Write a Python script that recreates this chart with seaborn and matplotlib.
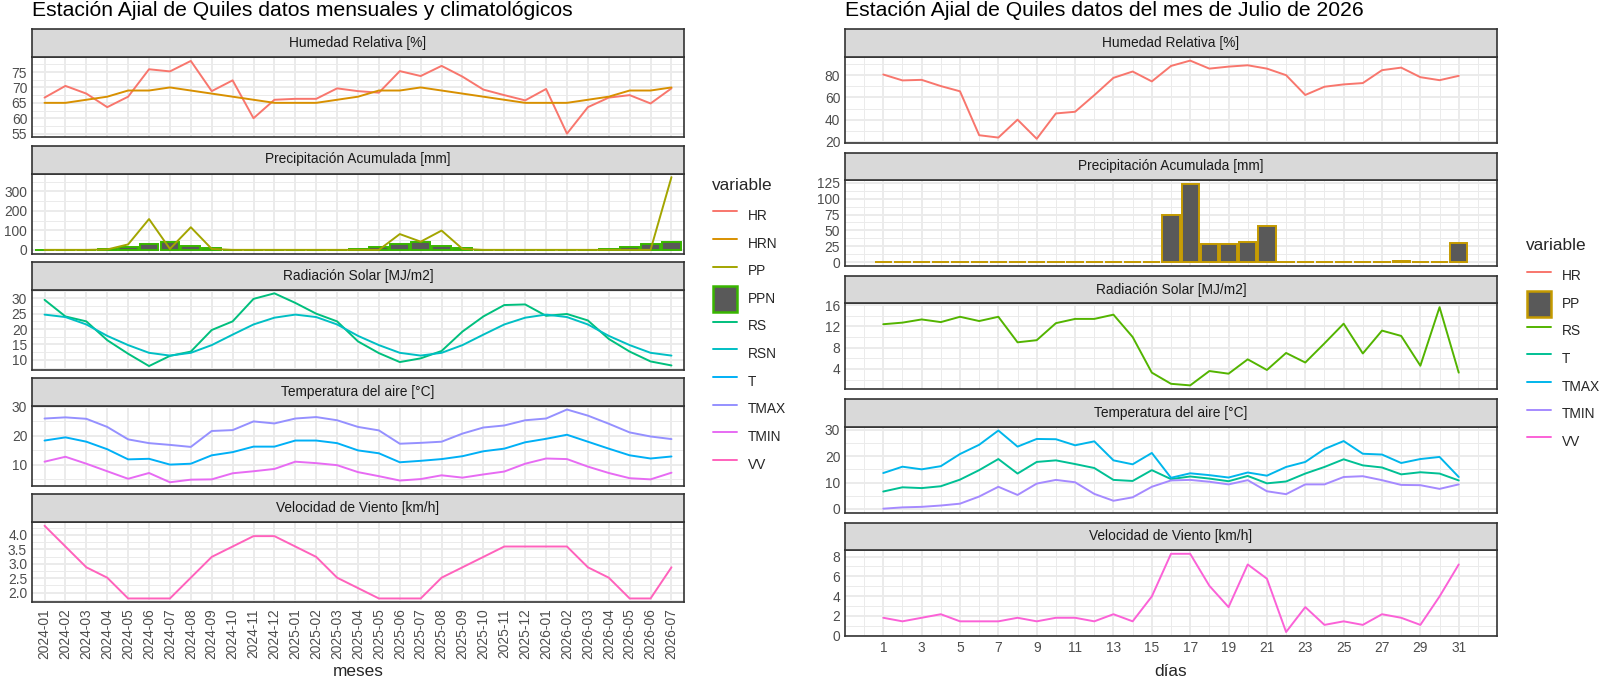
import numpy as np
import pandas as pd
import matplotlib
matplotlib.use('Agg')
import matplotlib.pyplot as plt
import seaborn as sns
from matplotlib.lines import Line2D
from matplotlib.patches import Patch

sns.set_style('white')
plt.rcParams['font.family'] = ['Liberation Sans', 'DejaVu Sans']

# ---- datos mensuales y climatologicos (izquierda) ----
meses = ['2024-01', '2024-02', '2024-03', '2024-04', '2024-05', '2024-06', '2024-07', '2024-08',
         '2024-09', '2024-10', '2024-11', '2024-12', '2025-01', '2025-02', '2025-03', '2025-04',
         '2025-05', '2025-06', '2025-07', '2025-08', '2025-09', '2025-10', '2025-11', '2025-12',
         '2026-01', '2026-02', '2026-03', '2026-04', '2026-05', '2026-06', '2026-07']
hr_mes = [66.7, 70.5, 68.0, 63.6, 67.0, 75.9, 75.2, 78.6, 68.8, 72.3, 60.0, 66.0, 66.3, 66.3, 69.7, 68.8,
          68.3, 75.3, 73.7, 77.0, 73.5, 69.3, 67.5, 65.8, 69.5, 55.0, 63.6, 66.7, 67.5, 64.8, 69.7]
hrn_mes = [65, 65, 66, 67, 69, 69, 70, 69, 68, 67, 66, 65, 65, 65, 66, 67,
           69, 69, 70, 69, 68, 67, 66, 65, 65, 65, 66, 67, 69, 69, 70]
pp_mes = [0, 0, 0, 2, 28, 158, 5, 116, 5, 0, 0, 0, 0, 0, 0, 0,
          0, 81, 42, 99, 5, 0, 0, 0, 0, 0, 0, 0, 0, 0, 373]
ppn_mes = [0, 0, 1, 3, 16, 31, 42, 21, 8, 1, 0, 0, 0, 0, 1, 3,
           16, 31, 42, 21, 8, 1, 0, 0, 0, 0, 1, 3, 16, 31, 42]
rs_mes = [29.5, 24.1, 22.5, 16.4, 12.0, 8.0, 11.3, 12.7, 19.7, 22.5, 29.8, 31.6, 28.5, 25.0, 22.5, 16.0,
          12.2, 9.3, 10.5, 12.9, 19.2, 24.1, 27.8, 28.0, 24.3, 24.9, 22.8, 16.8, 12.7, 9.5, 8.2]
rsn_mes = [24.7, 23.9, 21.5, 17.8, 14.8, 12.3, 11.4, 12.3, 14.8, 18.2, 21.5, 23.7, 24.7, 23.9, 21.5, 17.8,
           14.8, 12.3, 11.4, 12.3, 14.8, 18.2, 21.5, 23.7, 24.7, 23.9, 21.5, 17.8, 14.8, 12.3, 11.4]
tmax_mes = [26.0, 26.4, 25.9, 23.1, 18.8, 17.5, 16.9, 16.2, 21.7, 22.0, 25.0, 24.3, 26.0, 26.5, 25.4, 23.1,
            21.9, 17.3, 17.6, 18.0, 20.8, 22.9, 23.6, 25.4, 26.0, 29.1, 27.0, 24.2, 21.2, 19.8, 18.9]
t_mes = [18.4, 19.5, 18.0, 15.4, 11.9, 12.1, 10.1, 10.4, 13.3, 14.4, 16.3, 16.3, 18.4, 18.4, 17.5, 15.0,
         14.0, 10.9, 11.4, 12.0, 13.0, 14.7, 15.6, 17.8, 19.0, 20.4, 18.0, 15.6, 13.3, 12.2, 12.9]
tmin_mes = [11.1, 12.8, 10.4, 7.8, 5.2, 7.2, 4.0, 4.9, 5.0, 7.1, 7.8, 8.6, 11.1, 10.6, 9.9, 7.5,
            6.1, 4.6, 5.1, 6.4, 5.6, 6.7, 7.7, 10.4, 12.2, 12.0, 9.4, 7.2, 5.4, 5.0, 7.3]
vv_mes = [4.32, 3.6, 2.88, 2.52, 1.8, 1.8, 1.8, 2.52, 3.24, 3.6, 3.96, 3.96, 3.6, 3.24, 2.52, 2.16,
          1.8, 1.8, 1.8, 2.52, 2.88, 3.24, 3.6, 3.6, 3.6, 3.6, 2.88, 2.52, 1.8, 1.8, 2.88]

# ---- datos diarios de julio 2026 (derecha) ----
dias = list(range(1, 32))
dias_ticks = [1, 3, 5, 7, 9, 11, 13, 15, 17, 19, 21, 23, 25, 27, 29, 31]
hr_dia = [80.6, 75.3, 75.8, 70.2, 65.5, 26.0, 23.9, 40.0, 22.8, 45.6, 47.1, 62.0, 77.6, 83.3, 74.4, 88.3,
          93.1, 85.9, 87.7, 88.9, 85.9, 80.0, 62.2, 69.6, 71.7, 72.9, 84.5, 86.8, 78.2, 75.5, 79.4]
pp_dia = [0, 0, 0, 0, 0, 0, 0, 0, 0, 0, 0, 0, 0, 0, 0, 74.7,
          123.4, 29, 28, 31, 57, 0, 0, 0, 0, 0, 0, 2, 0, 0, 30.6]
rs_dia = [12.4, 12.7, 13.3, 12.8, 13.8, 13.0, 13.8, 9.0, 9.4, 12.6, 13.4, 13.4, 14.2, 10.0, 3.3, 1.2,
          0.9, 3.6, 3.1, 5.8, 3.8, 7.0, 5.2, 8.8, 12.5, 6.9, 11.2, 10.2, 4.6, 15.6, 3.3]
tmax_dia = [13.6, 16.0, 15.0, 16.2, 20.8, 24.3, 29.7, 23.6, 26.5, 26.4, 24.1, 25.6, 18.4, 16.9, 21.2, 11.8,
            13.5, 12.8, 11.9, 13.8, 12.6, 15.9, 17.8, 22.7, 25.7, 20.9, 20.6, 17.4, 18.9, 19.7, 12.1]
t_dia = [6.6, 8.2, 7.9, 8.6, 11.1, 14.7, 18.9, 13.4, 17.8, 18.4, 17.0, 15.5, 11.0, 10.6, 14.7, 11.3,
         12.3, 11.5, 10.5, 12.5, 9.7, 10.4, 13.4, 15.9, 18.8, 16.5, 15.7, 13.1, 13.9, 13.4, 10.8]
tmin_dia = [0.1, 0.6, 0.8, 1.3, 2.0, 4.7, 8.4, 5.3, 9.6, 11.0, 10.1, 5.7, 3.1, 4.4, 8.4, 10.8,
            11.0, 10.3, 9.3, 10.9, 6.7, 5.6, 9.3, 9.3, 12.1, 12.4, 10.9, 9.1, 9.0, 7.6, 9.3]
vv_dia = [1.8, 1.44, 1.8, 2.16, 1.44, 1.44, 1.44, 1.8, 1.44, 1.8, 1.8, 1.44, 2.16, 1.44, 3.96, 8.28,
          8.28, 5.04, 2.88, 7.2, 5.76, 0.36, 2.88, 1.08, 1.44, 1.08, 2.16, 1.8, 1.08, 3.96, 7.2]

titulos = ['Humedad Relativa [%]', 'Precipitación Acumulada [mm]', 'Radiación Solar [MJ/m2]',
           'Temperatura del aire [°C]', 'Velocidad de Viento [km/h]']

# colores ggplot (hue) para 10 y 7 niveles
pal_izq = {'HR': '#F8766D', 'HRN': '#D89000', 'PP': '#A3A500', 'PPN': '#39B600', 'RS': '#00BF7D',
           'RSN': '#00BFC4', 'T': '#00B0F6', 'TMAX': '#9590FF', 'TMIN': '#E76BF3', 'VV': '#FF62BC'}
pal_der = {'HR': '#F8766D', 'PP': '#C49A00', 'RS': '#53B400', 'T': '#00C094',
           'TMAX': '#00B6EB', 'TMIN': '#A58AFF', 'VV': '#FB61D7'}
BAR_FILL = '#595959'
EDGE = '#333333'
GRID = '#EBEBEB'
TXT = 9.9
LW = 1.4

W, H = 1600, 676
fig = plt.figure(figsize=(W / 100, H / 100), dpi=100)


def fx(px):
    return px / W


def fy(py):
    return 1 - py / H


def minors(major, lo, hi):
    step = major[1] - major[0]
    ext = [major[0] - step] + list(major) + [major[-1] + step]
    mids = [(a + b) / 2 for a, b in zip(ext[:-1], ext[1:])]
    return [m for m in mids if lo <= m <= hi]


def make_panel(left, right, top, strip_h, panel_h, titulo):
    ax = fig.add_axes([fx(left), fy(top + strip_h + panel_h), fx(right - left), panel_h / H])
    sax = fig.add_axes([fx(left), fy(top + strip_h), fx(right - left), strip_h / H])
    sax.set_facecolor('#D9D9D9')
    sax.set_xticks([])
    sax.set_yticks([])
    for sp in sax.spines.values():
        sp.set_color(EDGE)
        sp.set_linewidth(1.2)
    sax.text(0.5, 0.5, titulo, ha='center', va='center', transform=sax.transAxes,
             fontsize=TXT, color='#1A1A1A')
    return ax


def style_panel(ax, xlim, yvals, yticks):
    lo, hi = min(yvals), max(yvals)
    pad = 0.05 * (hi - lo)
    ax.set_xlim(*xlim)
    ax.set_ylim(lo - pad, hi + pad)
    ax.set_yticks(yticks)
    ax.set_yticks(minors(yticks, lo - pad, hi + pad), minor=True)
    ax.grid(True, which='major', color=GRID, linewidth=1.4)
    ax.grid(True, which='minor', color=GRID, linewidth=0.7)
    ax.set_axisbelow(True)
    for sp in ax.spines.values():
        sp.set_color(EDGE)
        sp.set_linewidth(1.2)
        sp.set_zorder(5)
    ax.tick_params(axis='y', which='major', length=2.3, width=0.9, color=EDGE,
                   labelsize=TXT, labelcolor='#4D4D4D', pad=1.2)
    ax.tick_params(which='minor', length=0)
    ax.set_xlabel('')
    ax.set_ylabel('')


def linea(ax, x, y, color):
    sns.lineplot(x=x, y=y, ax=ax, color=color, linewidth=LW)


def barras(ax, x, y, edge):
    sns.barplot(x=x, y=y, ax=ax, native_scale=True, width=0.9, color=BAR_FILL,
                saturation=1, edgecolor=edge, linewidth=1.4, errorbar=None)


# ---------------- izquierda ----------------
xi = list(range(len(meses)))
L_LEFT, L_RIGHT = 32, 684
L_TOP0, L_STEP, L_STRIP, L_PH = 29.3, 116.2, 28, 80
xlim_izq = (-0.6, len(meses) - 1 + 0.6)

izq = [
    (titulos[0], [hr_mes, hrn_mes], [55, 60, 65, 70, 75]),
    (titulos[1], [pp_mes, ppn_mes], [0, 100, 200, 300]),
    (titulos[2], [rs_mes, rsn_mes], [10, 15, 20, 25, 30]),
    (titulos[3], [tmax_mes, t_mes, tmin_mes], [10, 20, 30]),
    (titulos[4], [vv_mes], [2.0, 2.5, 3.0, 3.5, 4.0]),
]
a = [make_panel(L_LEFT, L_RIGHT, L_TOP0 + k * L_STEP, L_STRIP, L_PH, izq[k][0]) for k in range(5)]

linea(a[0], xi, hr_mes, pal_izq['HR'])
linea(a[0], xi, hrn_mes, pal_izq['HRN'])
barras(a[1], xi, ppn_mes, pal_izq['PPN'])
linea(a[1], xi, pp_mes, pal_izq['PP'])
linea(a[2], xi, rs_mes, pal_izq['RS'])
linea(a[2], xi, rsn_mes, pal_izq['RSN'])
linea(a[3], xi, t_mes, pal_izq['T'])
linea(a[3], xi, tmax_mes, pal_izq['TMAX'])
linea(a[3], xi, tmin_mes, pal_izq['TMIN'])
linea(a[4], xi, vv_mes, pal_izq['VV'])

for k, ax in enumerate(a):
    style_panel(ax, xlim_izq, [v for s in izq[k][1] for v in s], izq[k][2])
    ax.set_xticks(xi)
    if k < 4:
        ax.tick_params(axis='x', length=0, labelbottom=False)
    else:
        ax.set_xticklabels(meses, rotation=90)
        ax.tick_params(axis='x', length=2.3, width=0.9, color=EDGE, labelsize=TXT,
                       labelcolor='#4D4D4D', pad=2.2)

fig.text(fx((L_LEFT + L_RIGHT) / 2), fy(671), 'meses', fontsize=12.4, ha='center', va='center')
fig.text(fx(L_LEFT), fy(16), 'Estación Ajial de Quiles datos mensuales y climatológicos',
         fontsize=15.2, ha='left', va='baseline', color='black')

# ---------------- derecha ----------------
R_LEFT, R_RIGHT = 845, 1497
R_TOP0, R_STEP, R_STRIP, R_PH = 29.3, 123.3, 27.4, 86
lo_x, hi_x = min(dias) - 0.45, max(dias) + 0.45
xlim_der = (lo_x - 0.05 * (hi_x - lo_x), hi_x + 0.05 * (hi_x - lo_x))
dias_minor = list(range(0, 33, 2))

der = [
    (titulos[0], [hr_dia], [20, 40, 60, 80]),
    (titulos[1], [pp_dia], [0, 25, 50, 75, 100, 125]),
    (titulos[2], [rs_dia], [4, 8, 12, 16]),
    (titulos[3], [tmax_dia, t_dia, tmin_dia], [0, 10, 20, 30]),
    (titulos[4], [vv_dia], [0, 2, 4, 6, 8]),
]
b = [make_panel(R_LEFT, R_RIGHT, R_TOP0 + k * R_STEP, R_STRIP, R_PH, der[k][0]) for k in range(5)]

linea(b[0], dias, hr_dia, pal_der['HR'])
barras(b[1], dias, pp_dia, pal_der['PP'])
linea(b[2], dias, rs_dia, pal_der['RS'])
linea(b[3], dias, t_dia, pal_der['T'])
linea(b[3], dias, tmax_dia, pal_der['TMAX'])
linea(b[3], dias, tmin_dia, pal_der['TMIN'])
linea(b[4], dias, vv_dia, pal_der['VV'])

for k, ax in enumerate(b):
    style_panel(ax, xlim_der, [v for s in der[k][1] for v in s], der[k][2])
    ax.set_xticks(dias_ticks)
    ax.set_xticks(dias_minor, minor=True)
    ax.grid(True, which='major', color=GRID, linewidth=1.4)
    ax.grid(True, which='minor', color=GRID, linewidth=0.7)
    ax.tick_params(which='minor', length=0)
    if k < 4:
        ax.tick_params(axis='x', length=0, labelbottom=False)
    else:
        ax.tick_params(axis='x', length=2.3, width=0.9, color=EDGE, labelsize=TXT,
                       labelcolor='#4D4D4D', pad=1.5)

fig.text(fx((R_LEFT + R_RIGHT) / 2), fy(671), 'días', fontsize=12.4, ha='center', va='center')
fig.text(fx(R_LEFT), fy(16), 'Estación Ajial de Quiles datos del mes de Julio de 2026',
         fontsize=15.2, ha='left', va='baseline', color='black')


# ---------------- leyendas ----------------
def leyenda(pal, bar_key, edge, x, y_title, y_first):
    handles = []
    for name, col in pal.items():
        if name == bar_key:
            handles.append(Patch(facecolor=BAR_FILL, edgecolor=edge, linewidth=1.8))
        else:
            handles.append(Line2D([], [], color=col, linewidth=LW))
    fig.text(fx(x - 1), fy(y_title), 'variable', fontsize=12.4, ha='left', va='center')
    fig.legend(handles, list(pal.keys()), loc='upper left',
               bbox_to_anchor=(fx(x), fy(y_first - 13)),
               frameon=False, fontsize=TXT, handlelength=1.75, handleheight=2.53,
               labelspacing=0.12, borderaxespad=0, borderpad=0, handletextpad=0.8)


leyenda(pal_izq, 'PPN', pal_izq['PPN'], 713, 185, 215.7)
leyenda(pal_der, 'PP', pal_der['PP'], 1527, 245.7, 276)

fig.savefig('out.png', dpi=100)
